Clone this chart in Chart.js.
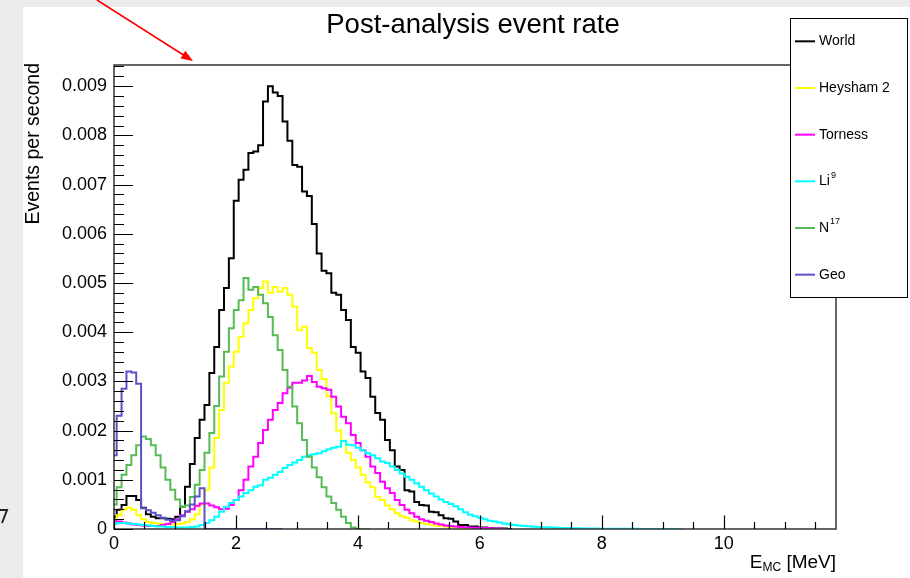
<!DOCTYPE html>
<html>
<head>
<meta charset="utf-8">
<title>Post-analysis event rate</title>
<script src="https://cdn.jsdelivr.net/npm/chart.js@4.4.1/dist/chart.umd.min.js"></script>
<style>
  html, body { margin: 0; padding: 0; background: #ececec; overflow: hidden; }
  #rateChart { display: block; }
</style>
</head>
<body>
<canvas id="rateChart" width="910" height="578"></canvas>
<script>
// Binning of the E_MC histograms (MeV) and axis ranges
const BIN_WIDTH = 0.08;
const HIST_XLOW = -0.036;
const X_MAX = 11.84;
const Y_MAX = 0.00943;
const RATE_UNIT = 1e-4; // bin contents below are in units of 1e-4 events per second

// Bin contents, starting at HIST_XLOW
const world = [
    2.5, 3.9, 4.9, 6.7, 6.7, 5.9, 4.3, 3.0, 2.5, 2.2,
    2.2, 2.1, 2.0, 2.5, 4.5, 8.6, 13.2, 18.5, 22.2, 25.2,
    31.7, 37, 44.5, 49, 55, 66.7, 71, 73, 76.4, 76.7,
    78, 86.9, 90, 88.7, 88, 82.8, 78.9, 74, 73.6, 68.6,
    67.7, 62, 56, 52.5, 52, 48, 47.6, 44.5, 42.5, 37,
    35.8, 32, 30.7, 26.9, 23.6, 22.2, 18.1, 16, 12.7, 12,
    7.9, 7.6, 5.5, 4.9, 4.8, 3.5, 3.4, 2.8, 2.2, 2.1,
    1.5, 0.8, 0.8, 0.5, 0.5, 0.3, 0.3, 0.2, 0.1, 0.1,
    0.1, 0
];
const heysham2 = [
    1.8, 2.8, 3.9, 4.3, 3.9, 2.8, 2.0, 1.4, 1.2, 1.1,
    1.0, 1.0, 0.9, 1.0, 1.1, 1.4, 2.0, 3.0, 5.0, 8.0,
    12.5, 18.5, 24.2, 29.7, 33, 36, 39, 41.8, 44.5, 46.9,
    49, 50.3, 48, 49.2, 48.2, 49, 47.6, 45.2, 40.4, 41.1,
    36.8, 35.8, 32.3, 30.5, 27, 23.5, 20, 18, 15.5, 14,
    12.5, 11, 9.5, 8.5, 6.5, 5.9, 4.8, 4.0, 3.2, 2.6,
    2.3, 1.8, 1.5, 1.2, 1.0, 0.9, 0.7, 0.6, 0.5, 0.4,
    0.3, 0.2, 0.15, 0.1, 0.1, 0
];
const torness = [
    1.6, 1.5, 1.3, 1.1, 0.9, 0.8, 0.7, 0.6, 0.6, 0.6,
    0.8, 1.0, 1.4, 2.0, 2.8, 3.5, 4.0, 4.7, 5.2, 5.2,
    4.8, 4.4, 4.0, 4.1, 4.9, 5.9, 7.9, 10, 12.7, 14.7,
    17.5, 20.1, 22.2, 24.2, 25.6, 27.6, 28.7, 29.7, 29.7, 30.2,
    31.1, 29.9, 28.9, 28.6, 28.3, 26.9, 24.9, 22.8, 21.5, 19.1,
    17.5, 16, 14.7, 12.7, 11.4, 9.6, 8.3, 7.3, 5.9, 4.9,
    3.9, 3.2, 2.5, 2.0, 1.7, 1.4, 1.1, 0.9, 0.7, 0.6,
    0.5, 0.4, 0.35, 0.3, 0.25, 0.2, 0.2, 0.15, 0.1, 0.1,
    0
];
const li9 = [
    1.0, 1.2, 1.2, 1.1, 1.0, 0.9, 0.8, 0.7, 0.6, 0.5,
    0.5, 0.4, 0.4, 0.3, 0.3, 0.3, 0.4, 0.5, 0.8, 1.2,
    1.8, 2.5, 3.5, 4.5, 5.3, 5.9, 6.6, 7.3, 7.9, 8.6,
    8.9, 10, 10.4, 11, 11.6, 12.4, 13, 13.5, 14, 14.7,
    15, 15.2, 15.4, 15.8, 16.2, 16.5, 16.7, 17.9, 17.1, 17.0,
    16.5, 16, 15.4, 15, 14.4, 13.7, 13.4, 12.7, 12, 11.3,
    10.6, 10, 9.3, 8.6, 7.9, 7.2, 6.6, 6.0, 5.5, 5.1,
    4.6, 4.0, 3.4, 2.9, 2.6, 2.3, 2.0, 1.7, 1.5, 1.3,
    1.1, 0.95, 0.8, 0.7, 0.6, 0.55, 0.45, 0.4, 0.35, 0.35,
    0.3, 0.25, 0.2, 0.2, 0.15, 0.15, 0.1, 0.1, 0.1, 0.08,
    0.06, 0.06, 0.05, 0.05, 0.04, 0.04, 0.03, 0.03, 0.02, 0.02,
    0.02, 0.01, 0.01, 0.01, 0.01, 0.01, 0
];
const n17 = [
    5, 8.5, 11, 13, 15, 17, 18.8, 18.3, 17, 15,
    12.5, 10, 8, 6, 4.5, 4.8, 6.5, 9, 12, 15.5,
    19.5, 25, 31, 36, 40.8, 44.5, 46.5, 51, 48.6, 49.2,
    47.6, 45.9, 43.1, 39.4, 36.4, 32.3, 28.9, 24.9, 21.5, 18.1,
    14.7, 12.5, 10.5, 8.5, 6.6, 5.3, 3.9, 2.5, 1.2, 0.3,
    0, 0, 0
];
const geo = [
    15, 23, 28.5, 32, 31.8, 29.5, 4.2, 3.8, 3.3, 2.8,
    2.3, 1.9, 1.7, 1.8, 2.6, 3.6, 5.0, 6.6, 8.3, 0,
    0, 0, 0, 0, 0, 0, 0, 0, 0, 0,
    0, 0, 0, 0, 0
];

// Axis tick labels
const yTickValues = [0, 0.001, 0.002, 0.003, 0.004, 0.005, 0.006, 0.007, 0.008, 0.009];
const yTickLabels = ['0', '0.001', '0.002', '0.003', '0.004', '0.005', '0.006', '0.007', '0.008', '0.009'];
const xTickValues = [0, 2, 4, 6, 8, 10];
const xTickLabels = ['0', '2', '4', '6', '8', '10'];

const FONT = "'Liberation Sans', Arial, Helvetica, sans-serif";

// Points at the lower bin edges, closed at the upper edge of the last bin
function histPoints(contents) {
    const pts = contents.map((v, i) => ({ x: HIST_XLOW + i * BIN_WIDTH, y: v * RATE_UNIT }));
    pts.push({ x: HIST_XLOW + contents.length * BIN_WIDTH, y: 0 });
    return pts;
}

function histDataset(label, contents, color, order) {
    return {
        label: label,
        data: histPoints(contents),
        borderColor: color,
        backgroundColor: color,
        borderWidth: 2,
        stepped: 'before',
        pointRadius: 0,
        fill: false,
        order: order,
        borderJoinStyle: 'miter',
        borderCapStyle: 'butt',
    };
}

const legendEntries = [
    { text: 'World', sup: '', color: '#000000' },
    { text: 'Heysham 2', sup: '', color: '#ffff00' },
    { text: 'Torness', sup: '', color: '#ff00ff' },
    { text: 'Li', sup: '9', color: '#00ffff' },
    { text: 'N', sup: '17', color: '#55bb55' },
    { text: 'Geo', sup: '', color: '#5c52c8' },
];

// Page background, white pad, frame, ticks, labels, title and legend box
const padDecor = {
    id: 'padDecor',
    beforeDraw(chart) {
        const ctx = chart.ctx;
        ctx.save();
        ctx.fillStyle = '#ececec';
        ctx.fillRect(0, 0, chart.width, chart.height);
        ctx.fillStyle = '#ffffff';
        ctx.fillRect(23, 7, chart.width - 23, chart.height - 7);
        ctx.restore();
    },
    afterDraw(chart) {
        const ctx = chart.ctx;
        const area = chart.chartArea;
        const xs = chart.scales.x;
        const ys = chart.scales.y;
        ctx.save();

        // frame
        ctx.strokeStyle = '#333333';
        ctx.lineWidth = 1.5;
        ctx.strokeRect(area.left, area.top, area.right - area.left, area.bottom - area.top);

        // y ticks
        ctx.strokeStyle = '#000000';
        ctx.lineWidth = 1.2;
        ctx.beginPath();
        for (let k = 0; k * 0.0002 <= Y_MAX + 1e-9; k++) {
            const y = Math.round(ys.getPixelForValue(k * 0.0002)) + 0.5;
            const len = (k % 5 === 0) ? 19 : 10;
            ctx.moveTo(area.left, y);
            ctx.lineTo(area.left + len, y);
        }
        // x ticks
        for (let k = 0; k * 0.5 <= X_MAX; k++) {
            const x = Math.round(xs.getPixelForValue(k * 0.5)) + 0.5;
            const len = (k % 4 === 0) ? 13.5 : 7;
            ctx.moveTo(x, area.bottom);
            ctx.lineTo(x, area.bottom - len);
        }
        ctx.stroke();

        // tick labels
        ctx.fillStyle = '#000000';
        ctx.font = '18px ' + FONT;
        ctx.textAlign = 'right';
        ctx.textBaseline = 'middle';
        yTickValues.forEach((v, i) => {
            ctx.fillText(yTickLabels[i], area.left - 7, ys.getPixelForValue(v));
        });
        ctx.textAlign = 'center';
        ctx.textBaseline = 'top';
        xTickValues.forEach((v, i) => {
            ctx.fillText(xTickLabels[i], xs.getPixelForValue(v), area.bottom + 6);
        });

        // title
        ctx.font = '27.5px ' + FONT;
        ctx.textAlign = 'center';
        ctx.textBaseline = 'middle';
        ctx.fillText('Post-analysis event rate', 473, 25);

        // y axis title, aligned to the top end of the axis
        ctx.save();
        ctx.translate(39, area.top - 2);
        ctx.rotate(-Math.PI / 2);
        ctx.font = '19.5px ' + FONT;
        ctx.textAlign = 'right';
        ctx.textBaseline = 'alphabetic';
        ctx.fillText('Events per second', 0, 0);
        ctx.restore();

        // x axis title with subscript, aligned to the right end
        ctx.textBaseline = 'alphabetic';
        ctx.textAlign = 'left';
        const big = '19px ' + FONT;
        const small = '12px ' + FONT;
        ctx.font = big;
        const wE = ctx.measureText('E').width;
        const wUnit = ctx.measureText(' [MeV]').width;
        ctx.font = small;
        const wSub = ctx.measureText('MC').width;
        let x0 = area.right - (wE + wSub + wUnit);
        const base = 568;
        ctx.font = big;
        ctx.fillText('E', x0, base);
        ctx.font = small;
        ctx.fillText('MC', x0 + wE, base + 3);
        ctx.font = big;
        ctx.fillText(' [MeV]', x0 + wE + wSub, base);

        // legend box
        const lx = 790, ly = 18, lw = 118, lh = 280;
        ctx.fillStyle = '#ffffff';
        ctx.fillRect(lx, ly, lw, lh);
        ctx.strokeStyle = '#000000';
        ctx.lineWidth = 1;
        ctx.strokeRect(lx + 0.5, ly + 0.5, lw - 1, lh - 1);
        const rowH = lh / legendEntries.length;
        legendEntries.forEach((e, i) => {
            const cy = ly + rowH * (i + 0.5);
            ctx.strokeStyle = e.color;
            ctx.lineWidth = 2;
            ctx.beginPath();
            ctx.moveTo(795, cy);
            ctx.lineTo(815, cy);
            ctx.stroke();
            ctx.fillStyle = '#000000';
            ctx.font = '14px ' + FONT;
            ctx.textAlign = 'left';
            ctx.textBaseline = 'middle';
            ctx.fillText(e.text, 819, cy);
            if (e.sup) {
                const w = ctx.measureText(e.text).width;
                ctx.font = '9px ' + FONT;
                ctx.fillText(e.sup, 819 + w + 1, cy - 6);
            }
        });

        // red annotation arrow
        ctx.strokeStyle = '#ff0000';
        ctx.fillStyle = '#ff0000';
        ctx.lineWidth = 1.6;
        ctx.beginPath();
        ctx.moveTo(97, 0);
        ctx.lineTo(185, 56);
        ctx.stroke();
        ctx.beginPath();
        ctx.moveTo(193, 61);
        ctx.lineTo(180.5, 58.4);
        ctx.lineTo(185.3, 50.8);
        ctx.closePath();
        ctx.fill();

        // small mark at the left edge
        ctx.strokeStyle = '#222222';
        ctx.lineWidth = 2;
        ctx.beginPath();
        ctx.moveTo(0, 510);
        ctx.lineTo(7, 510);
        ctx.lineTo(2, 523);
        ctx.stroke();

        ctx.restore();
    }
};

const ctxRate = document.getElementById('rateChart').getContext('2d');

const rateChart = new Chart(ctxRate, {
    type: 'line',
    data: {
        datasets: [
            histDataset('World', world, '#000000', 6),
            histDataset('Heysham 2', heysham2, '#ffff00', 5),
            histDataset('Torness', torness, '#ff00ff', 4),
            histDataset('Li9', li9, '#00ffff', 3),
            histDataset('N17', n17, '#55bb55', 2),
            histDataset('Geo', geo, '#5c52c8', 1),
        ]
    },
    options: {
        responsive: false,
        animation: false,
        layout: {
            padding: { left: 114, top: 65, right: 74, bottom: 49 },
        },
        scales: {
            x: {
                type: 'linear',
                min: 0,
                max: X_MAX,
                display: false,
            },
            y: {
                type: 'linear',
                min: 0,
                max: Y_MAX,
                display: false,
            },
        },
        plugins: {
            legend: { display: false },
            tooltip: { enabled: false },
        },
    },
    plugins: [padDecor],
});
</script>
</body>
</html>
